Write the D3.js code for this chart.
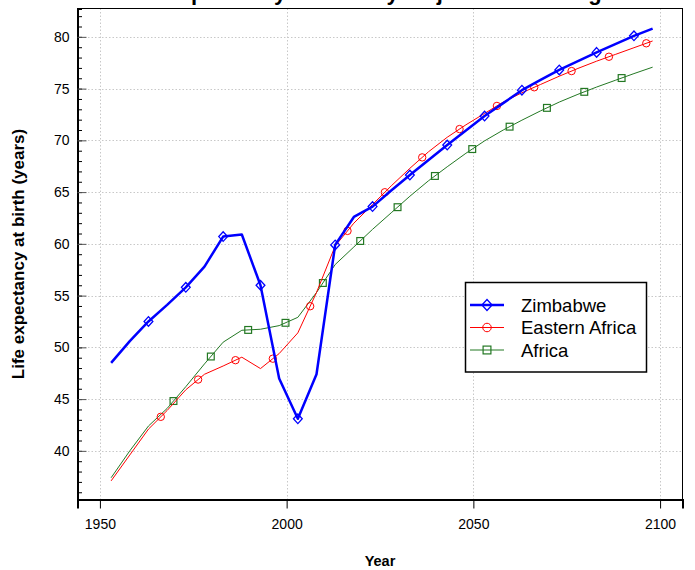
<!DOCTYPE html>
<html><head><meta charset="utf-8">
<script src="https://cdn.jsdelivr.net/npm/d3@7"></script>
<style>
html,body{margin:0;padding:0;background:#fff;}
svg{display:block;font-family:"Liberation Sans",Arial,sans-serif;}
</style></head>
<body>
<svg id="chart" width="695" height="570"></svg>
<script>
const years = [1953,1958,1963,1968,1973,1978,1983,1988,1993,1998,2003,2008,2013,2018,2023,2028,2033,2038,2043,2048,2053,2058,2063,2068,2073,2078,2083,2088,2093,2098];
const zimbabwe = [48.5,50.6,52.5,54.1,55.8,57.8,60.7,60.9,56.0,47.0,43.1,47.4,59.9,62.6,63.6,65.15,66.65,68.1,69.55,70.95,72.35,73.6,74.85,75.85,76.8,77.65,78.5,79.3,80.1,80.8];
const easternAfrica = [37.1,39.6,42.1,43.9,45.9,47.4,48.2,49.05,47.95,49.4,51.4,55.3,59.8,62.0,63.8,65.6,67.3,68.9,70.3,71.5,72.6,73.7,74.6,75.4,76.2,76.95,77.65,78.3,78.95,79.6];
const africa = [37.4,40.0,42.4,44.1,46.2,48.4,50.5,51.65,51.75,52.1,52.9,55.3,58.0,59.7,61.4,63.0,64.6,66.1,67.45,68.75,69.95,71.0,71.95,72.85,73.7,74.45,75.15,75.8,76.45,77.07];
const zimMarkYears = [1963,1973,1983,1993,2003,2013,2023,2033,2043,2053,2063,2073,2083,2093];
const eafMarkYears = [1966.3,1976.3,1986.3,1996.3,2006.3,2016.3,2026.3,2036.3,2046.3,2056.3,2066.3,2076.3,2086.3,2096.3];
const afrMarkYears = [1969.7,1979.7,1989.7,1999.7,2009.7,2019.7,2029.7,2039.7,2049.7,2059.7,2069.7,2079.7,2089.7];
const xTicks = [1950,2000,2050,2100];
const yTicks = [40,45,50,55,60,65,70,75,80];
const yMinor = [36,37,38,39,40,41,42,43,44,45,46,47,48,49,50,51,52,53,54,55,56,57,58,59,60,61,62,63,64,65,66,67,68,69,70,71,72,73,74,75,76,77,78,79,80,81,82];
const seriesNames = ["Zimbabwe","Eastern Africa","Africa"];
const titleText = "Life expectancy at birth by major area and region";
const xLabel = "Year";
const yLabel = "Life expectancy at birth (years)";

const L = 77.5, R = 682.5, T = 8.5, B = 499.5;
const svg = d3.select("#chart");
const x = d3.scaleLinear().domain([1944, 2106]).range([L, R]);
const y = d3.scaleLinear().domain([35.3, 82.74]).range([B, T]);

// grid
const grid = svg.append("g").attr("stroke","#c8c8c8").attr("stroke-width",1).attr("stroke-dasharray","1.5,2");
grid.selectAll("line.v").data(xTicks).join("line")
  .attr("x1",d=>Math.round(x(d))+0.5).attr("x2",d=>Math.round(x(d))+0.5).attr("y1",T).attr("y2",B);
grid.selectAll("line.h").data(yTicks).join("line")
  .attr("y1",d=>Math.round(y(d))+0.5).attr("y2",d=>Math.round(y(d))+0.5).attr("x1",L).attr("x2",R);

// box
svg.append("rect").attr("x",L).attr("y",T).attr("width",R-L).attr("height",B-T)
  .attr("fill","none").attr("stroke","#000").attr("stroke-width",1);

// x axis
const xAxis = d3.axisBottom(x).tickValues(xTicks).tickSize(9).tickPadding(11).tickFormat(d3.format("d"));
const gx = svg.append("g").attr("transform",`translate(0,${B})`).call(xAxis);
gx.select(".domain").attr("stroke-width",2);
gx.selectAll(".tick text").attr("font-size",14).attr("fill","#000").attr("font-family","Liberation Sans, Arial, sans-serif");

// y axis (ticks inward)
const yAxisMinor = d3.axisRight(y).tickValues(yMinor).tickSize(4.5).tickFormat("");
const gyMinor = svg.append("g").attr("transform",`translate(${L},0)`).call(yAxisMinor);
gyMinor.select(".domain").attr("stroke-width",2);
const yAxisMajor = d3.axisLeft(y).tickValues(yTicks).tickSize(0).tickPadding(8);
const gy = svg.append("g").attr("transform",`translate(${L},0)`).call(yAxisMajor);
gy.select(".domain").remove();
gy.selectAll(".tick line").remove();
gy.selectAll(".tick").append("line").attr("x1",0).attr("x2",9).attr("stroke","#555").attr("stroke-width",1);
gy.selectAll(".tick text").attr("font-size",14).attr("fill","#000").attr("font-family","Liberation Sans, Arial, sans-serif");

// labels
svg.append("text").attr("x",378).attr("y",-0.5).attr("text-anchor","middle")
  .attr("font-size",22).attr("font-weight","bold").text(titleText);
svg.append("text").attr("x",380).attr("y",566).attr("text-anchor","middle")
  .attr("font-size",14.5).attr("font-weight","bold").text(xLabel);
svg.append("text").attr("transform","translate(24,254) rotate(-90)").attr("text-anchor","middle")
  .attr("font-size",17).attr("font-weight","bold").text(yLabel);

// series
const series = [
  {name:seriesNames[0], vals:zimbabwe, marks:zimMarkYears, color:"#0000ff", width:2.5, shape:"diamond"},
  {name:seriesNames[1], vals:easternAfrica, marks:eafMarkYears, color:"#ff0000", width:1, shape:"circle"},
  {name:seriesNames[2], vals:africa, marks:afrMarkYears, color:"#237823", width:1, shape:"square"}
];
function drawMarker(g, shape, cx, cy, color, s){
  if(shape==="diamond"){
    g.append("path").attr("d",`M${cx},${cy-4.8*s}L${cx+4.4*s},${cy}L${cx},${cy+4.8*s}L${cx-4.4*s},${cy}Z`)
      .attr("fill","none").attr("stroke",color).attr("stroke-width",1.3);
  } else if(shape==="circle"){
    g.append("circle").attr("cx",cx).attr("cy",cy).attr("r",3.7*s)
      .attr("fill","none").attr("stroke",color).attr("stroke-width",1);
  } else {
    g.append("rect").attr("x",cx-3.4*s).attr("y",cy-3.4*s).attr("width",6.8*s).attr("height",6.8*s)
      .attr("fill","none").attr("stroke",color).attr("stroke-width",1.2);
  }
}
const plot = svg.append("g");
[2,1,0].forEach(i=>{
  const s = series[i];
  const line = d3.line().x((d,j)=>x(years[j])).y(d=>y(d));
  plot.append("path").datum(s.vals).attr("d",line).attr("fill","none")
    .attr("stroke",s.color).attr("stroke-width",s.width).attr("stroke-linejoin","round");
  const interp = d3.scaleLinear().domain(years).range(s.vals);
  const mg = plot.append("g");
  s.marks.forEach(yr=>drawMarker(mg, s.shape, x(yr), y(interp(yr)), s.color, 1));
});

// legend
const lg = svg.append("g");
lg.append("rect").attr("x",465.5).attr("y",282.5).attr("width",181).attr("height",89.5)
  .attr("fill","#fff").attr("stroke","#000").attr("stroke-width",1.5);
const rowY = [305,327.5,350];
series.forEach((s,i)=>{
  lg.append("line").attr("x1",470).attr("x2",504).attr("y1",rowY[i]).attr("y2",rowY[i])
    .attr("stroke",s.color).attr("stroke-width",s.width);
  drawMarker(lg, s.shape, 487, rowY[i], s.color, 1.15);
  lg.append("text").attr("x",521).attr("y",rowY[i]+6.5).attr("font-size",18.5).attr("fill","#000").text(s.name);
});
</script>
</body></html>
